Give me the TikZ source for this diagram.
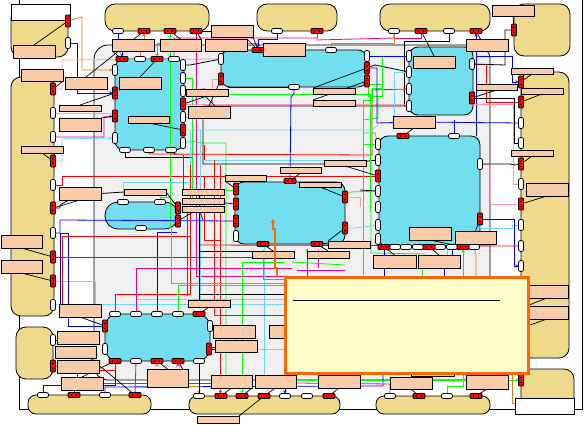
\documentclass[tikz,border=0pt]{standalone}
\usetikzlibrary{arrows.meta}
\definecolor{sand}{HTML}{EFDA8B}
\definecolor{blk}{HTML}{72DFF0}
\definecolor{lab}{HTML}{F9CBA8}
\definecolor{panel}{HTML}{F0F0F0}
\definecolor{cy}{HTML}{66DCF8}
\definecolor{pk}{HTML}{FF99AC}
\definecolor{og}{HTML}{DB7F14}
\definecolor{lm}{HTML}{00FF00}
\definecolor{box}{HTML}{FFFFCC}
\definecolor{edgeo}{HTML}{FF6600}
\pgfdeclarelayer{bg}\pgfdeclarelayer{wires}\pgfdeclarelayer{top}
\pgfsetlayers{bg,wires,main,top}
\tikzset{
 x=1pt,y=-1pt,
 whh/.style={draw=black,line width=.8pt,fill=white,rounded corners=2pt,minimum width=11pt,minimum height=5pt,inner sep=0pt,outer sep=0pt},
 whv/.style={draw=black,line width=.8pt,fill=white,rounded corners=2pt,minimum width=5pt,minimum height=11pt,inner sep=0pt,outer sep=0pt},
 redh/.style={draw=black,line width=.8pt,fill=red,rounded corners=1pt,minimum width=12pt,minimum height=5pt,inner sep=0pt,outer sep=0pt},
 redv/.style={draw=black,line width=.8pt,fill=red,rounded corners=1pt,minimum width=5pt,minimum height=12pt,inner sep=0pt,outer sep=0pt},
 labelbox/.style={draw=black,line width=.8pt,fill=lab,inner sep=0pt,outer sep=0pt,anchor=north west},
 sandbox/.style={draw=black,line width=.8pt,fill=sand,inner sep=0pt,outer sep=0pt,anchor=north west,rounded corners=10pt},
 blockbox/.style={draw=black,line width=.8pt,fill=blk,inner sep=0pt,outer sep=0pt,anchor=north west,rounded corners=9pt},
 panelbox/.style={draw=black,line width=.8pt,fill=panel,inner sep=0pt,outer sep=0pt,anchor=north west,rounded corners=14pt},
 whitebox/.style={draw=black,line width=.8pt,fill=white,inner sep=0pt,outer sep=0pt,anchor=north west},
 notebox/.style={draw=edgeo,fill=box,line width=3pt,inner sep=0pt,outer sep=0pt,anchor=north west},
 wr/.style={draw=red,line width=.8pt},wb/.style={draw=blue,line width=.8pt},wg/.style={draw=lm,line width=.8pt},wm/.style={draw=magenta,line width=.8pt},
 wc/.style={draw=cy,line width=.8pt},wp/.style={draw=pk,line width=.8pt},wo/.style={draw=og,line width=.8pt},wk/.style={draw=black,line width=.8pt},
 ld/.style={draw=black,line width=.7pt},
 tp/.style={-{Stealth[length=3pt,width=3.5pt]}}
}
\newcommand{\bx}[6]{\pgfmathsetmacro{\bw}{#5-#3}\pgfmathsetmacro{\bh}{#6-#4}\node[#1,minimum width=\bw pt,minimum height=\bh pt] (#2) at (#3,#4) {};}
\begin{document}
\begin{tikzpicture}
\useasboundingbox (0,0) rectangle (584,425);
\begin{pgfonlayer}{bg}
\fill[white] (0,0) rectangle (584,425);
\draw[wk] (19,0)--(19,409)--(582,409)--(582,0);
\bx{panelbox}{PAN}{94}{45}{490}{380}
\bx{sandbox}{S1}{11}{8}{68}{57}
\bx{sandbox}{S2}{105}{4}{209}{31}
\bx{sandbox}{S3}{257}{4}{337}{31}
\bx{sandbox}{S4}{380}{4}{490}{31}
\bx{sandbox}{S5}{514}{4}{570}{56}
\bx{sandbox}{S6}{11}{77}{54}{316}
\bx{sandbox}{S7}{16}{327}{53}{379}
\bx{sandbox}{S8}{521}{72}{569}{358}
\bx{sandbox}{S9}{521}{369}{574}{410}
\node[sandbox,rounded corners=8pt,minimum width=123pt,minimum height=19pt] (S10) at (28,395) {};
\node[sandbox,rounded corners=8pt,minimum width=151pt,minimum height=18pt] (S11) at (189,396) {};
\node[sandbox,rounded corners=8pt,minimum width=114pt,minimum height=18pt] (S12) at (376,396) {};
\bx{whitebox}{W1}{11}{4}{70}{20}
\bx{whitebox}{W2}{515}{398}{574}{414}
\bx{blockbox}{BA}{115}{59}{184}{150}
\bx{blockbox}{BB}{221}{50}{367}{87}
\bx{blockbox}{BC}{409}{47}{473}{115}
\bx{blockbox}{BD}{379}{136}{480}{247}
\bx{blockbox}{BE}{235}{182}{345}{244}
\bx{blockbox,rounded corners=13pt}{BF}{105}{202}{178}{229}
\bx{blockbox,rounded corners=13pt}{BG}{105}{314}{210}{361}
\end{pgfonlayer}
% ports
\foreach \x/\y in {118/31,277/31,394/31,449/31,140/59,174/59,125/150,149/150,171/150,331/50,294/87,454/136,395/247,406/247,418/247,440/247,452/247,474/247,141/228,123/202,160/202,115/314,136/314,157/314,178/314,136/361,199/361,43/395,105/395,199/396,285/396,307/396,390/396,447/396}
 \node[whh] (P\x-\y) at (\x,\y) {};
\foreach \x/\y in {68/43,115/70,115/138,183/65,183/78,183/91,183/117,183/143,53/113,53/137,53/185,53/233,53/305,53/340,221/59,367/56,409/56,409/72,409/89,409/106,472/64,378/144,378/160,378/191,378/207,378/225,378/239,480/164,521/123,521/143,521/184,521/225,521/246,521/266,236/236,105/349,210/326}
 \node[whv] (P\x-\y) at (\x,\y) {};
\foreach \x/\y in {144/31,170/31,196/31,122/59,157/59,258/50,290/181,317/31,421/31,476/31,403/136,384/247,429/247,463/247,263/244,317/244,199/314,115/361,157/361,178/361,74/395,135/395,221/396,242/396,264/396,329/396,419/396,476/396}
 {\node[redh] (P\x-\y) at (\x,\y) {};
  \fill[black] ({\x-2.5},\y) circle (.9) ({\x+2.5},\y) circle (.9);}
\foreach \x/\y in {68/21,115/93,115/116,183/104,183/130,53/89,53/161,53/208,53/257,53/281,53/366,221/79,367/68,367/81,472/98,378/176,480/219,514/30,521/82,521/102,521/164,521/204,521/380,236/189,236/204,236/221,345/197,345/228,178/208,178/221,105/326,209/349}
 {\node[redv] (P\x-\y) at (\x,\y) {};
  \fill[black] (\x,{\y-2.5}) circle (.9) (\x,{\y+2.5}) circle (.9);}
% labels
\bx{labelbox}{L1}{13}{45}{55}{58}
\bx{labelbox}{L2}{21}{69}{63}{81}
\bx{labelbox}{L3}{65}{77}{107}{89}
\bx{labelbox}{L4}{59}{105}{101}{111}
\bx{labelbox}{L5}{59}{118}{101}{131}
\bx{labelbox}{L6}{21}{146}{63}{153}
\bx{labelbox}{L7}{59}{187}{101}{200}
\bx{labelbox}{L8}{112}{39}{154}{51}
\bx{labelbox}{L9}{160}{39}{201}{51}
\bx{labelbox}{L10}{205}{39}{247}{51}
\bx{labelbox}{L11}{211}{25}{253}{37}
\bx{labelbox}{L12}{263}{43}{305}{56}
\bx{labelbox}{L13}{119}{77}{161}{89}
\bx{labelbox}{L14}{128}{116}{169}{123}
\bx{labelbox}{L15}{186}{89}{228}{96}
\bx{labelbox}{L16}{188}{106}{230}{118}
\bx{labelbox}{L17}{225}{175}{266}{181}
\bx{labelbox}{L18}{280}{167}{321}{173}
\bx{labelbox}{L19}{124}{189}{166}{195}
\bx{labelbox}{L20}{182}{189}{224}{195}
\bx{labelbox}{L21}{182}{198}{224}{204}
\bx{labelbox}{L22}{182}{206}{224}{212}
\bx{labelbox}{L23}{313}{88}{355}{94}
\bx{labelbox}{L24}{313}{100}{355}{106}
\bx{labelbox}{L25}{492}{5}{534}{16}
\bx{labelbox}{L26}{466}{39}{508}{51}
\bx{labelbox}{L27}{413}{56}{455}{68}
\bx{labelbox}{L28}{511}{68}{553}{74}
\bx{labelbox}{L29}{521}{88}{563}{94}
\bx{labelbox}{L30}{476}{84}{517}{90}
\bx{labelbox}{L31}{393}{116}{435}{128}
\bx{labelbox}{L32}{511}{150}{553}{156}
\bx{labelbox}{L33}{526}{183}{568}{196}
\bx{labelbox}{L34}{324}{160}{366}{166}
\bx{labelbox}{L35}{299}{182}{341}{187}
\bx{labelbox}{L36}{1}{235}{42}{248}
\bx{labelbox}{L37}{1}{260}{42}{273}
\bx{labelbox}{L38}{59}{304}{101}{317}
\bx{labelbox}{L39}{57}{331}{99}{344}
\bx{labelbox}{L40}{55}{346}{96}{358}
\bx{labelbox}{L41}{57}{360}{99}{373}
\bx{labelbox}{L42}{61}{377}{103}{390}
\bx{labelbox}{L43}{147}{369}{188}{387}
\bx{labelbox}{L44}{211}{375}{252}{388}
\bx{labelbox}{L45}{255}{375}{296}{388}
\bx{labelbox}{L46}{213}{325}{255}{338}
\bx{labelbox}{L47}{215}{340}{257}{352}
\bx{labelbox}{L48}{269}{325}{311}{338}
\bx{labelbox}{L49}{188}{300}{230}{307}
\bx{labelbox}{L50}{197}{416}{239}{423}
\bx{labelbox}{L51}{252}{251}{294}{258}
\bx{labelbox}{L52}{328}{241}{370}{248}
\bx{labelbox}{L53}{307}{251}{349}{258}
\bx{labelbox}{L54}{373}{255}{416}{268}
\bx{labelbox}{L55}{418}{255}{460}{268}
\bx{labelbox}{L56}{409}{227}{451}{240}
\bx{labelbox}{L57}{455}{231}{496}{244}
\bx{labelbox}{L58}{526}{285}{568}{298}
\bx{labelbox}{L59}{526}{306}{568}{319}
\bx{labelbox}{L60}{318}{375}{360}{388}
\bx{labelbox}{L61}{390}{377}{432}{389}
\bx{labelbox}{L62}{466}{375}{508}{389}
\bx{labelbox}{L63}{411}{366}{454}{376}
\begin{pgfonlayer}{wires}
% left-side wires into block A
\draw[wo,tp] (P68-21)--(82,17)--(82,70)--(P115-70);
\draw[wb,tp] (P68-43)--(77,43)--(77,93)--(P115-93);
\draw[wp] (P53-89)--(62,89)--(62,60)--(P221-59);
\draw[wp] (P53-113)--(115,113);
\draw[wm,tp] (P53-137)--(104,137)--(104,117)--(P115-116);
\draw[wc,tp] (P53-161)--(62,161)--(62,139)--(P115-138);
\draw[wr] (P53-185)--(62,185)--(62,176)--(P378-176);
\draw[wk] (P53-208)--(60,208)--(60,205)--(L7);
% top stubs
\draw[wb] (P118-31)--(118,39);
\draw[wo,tp] (L8.north -| P144-31)--(P144-31);
\draw[wg,tp] (P170-31)--(170,39);
\draw[wb,tp] (122,51)--(P122-59);
\draw[wo] (140,51)--(P140-59);
\draw[wo,tp] (160,43)--(157,43)--(P157-59);
\draw[wg] (170,51)--(170,228);
\draw[wm] (P174-59)--(174,38)--(317,38)--(317,40)--(394,38)--(P394-31);
\draw[wm] (P196-31)--(196,276)--(400,276);
\draw[wm] (317,33)--(317,38);
\draw[wm] (394,38)--(421,38)--(P421-31);
\draw[wo] (P331-50)--(331,43)--(394,43)--(P394-31);
\draw[wo,tp] (247,43)--(258,43)--(P258-50);
\draw[wb,tp] (P277-31)--(277,39)--(258,39)--(P258-50);
\draw[wb,tp] (476,39)--(P476-31);
\draw[wk] (P449-31)--(449,41)--(404,41)--(404,106);
\draw[wk] (221,59)--(190,65)--(P183-65);
\draw[wk] (P183-78)--(190,78);
% block A right
\draw[wg] (P183-78)--(192,78)--(192,212);
\draw[wg] (P183-117)--(192,117);
\draw[wk] (P183-91)--(205,89);
\draw[wg] (P183-143)--(192,141)--(203,143)--(226,143)--(226,375);
\draw[wk] (P125-150)--(125,157)--(192,157);
\draw[wr,tp] (P149-150)--(149,154)--(372,155)--(372,90)--(P409-89);
\draw[wk] (P171-150)--(175,154);
% long black
\draw[wk] (P409-106)--(203,106)--(203,164)--(340,164)--(P378-160);
\draw[wk] (P367-68)--(375,65)--(P409-72);
\draw[wk] (P294-87)--(228,87);
\draw[wp] (P221-79)--(212,79)--(212,104);
\draw[wp] (186,104)--(409,104);
% green net
\draw[wg] (228,94)--(372,94)--(372,88)--(382,88)--(382,56)--(P409-56);
\draw[wg] (363,275)--(363,100)--(372,100)--(372,88);
\draw[wg] (363,133)--(375,133)--(P378-144);
\draw[wg] (363,144)--(P378-144);
\draw[wg] (363,120)--(378,118)--(378,96);
\draw[wg] (368,84)--(368,96)--(382,96)--(382,84)--(368,84);
\draw[wg] (P345-197)--(350,192)--(P378-191);
\draw[wg] (371,212)--(371,253)--(425,254);
\draw[wg] (370,95)--(370,212);
\draw[wg] (240,190)--(225,190);
\draw[wg,tp] (307,254)--(307,249);
\draw[wg,tp] (463,277)--(P463-247);
\draw[wg] (422,268)--(422,277);
\draw[wg] (P447-396)--(447,386)--(463,386)--(463,373);
\draw[wg] (296,380)--(390,380) (432,380)--(466,380);
\draw[wg,tp] (508,380)--(P521-380);
\draw[wg] (P160-202)--(160,197)--(170,197);
% cyan
\draw[wc] (187,130)--(372,130)--(378,125);
\draw[wc] (203,160)--(325,160);
\draw[wc] (190,131)--(190,182);
\draw[wc] (200,130)--(200,300);
\draw[wc] (P123-202)--(123,182)--(190,182);
\draw[wc] (P409-72)--(394,72)--(394,116);
\draw[wc] (264,245)--(264,375);
\draw[wc] (P53-281)--(95,281)--(95,304);
\draw[wc] (62,304)--(292,304);
\draw[wc] (136,299)--(292,299);
\draw[wc] (60,304)--(P53-305);
\draw[wc] (P345-228)--(355,228)--(370,226)--(P378-225);
\draw[wc] (P480-219)--(480,228)--(512,228)--(512,225)--(P521-225);
\draw[wc] (447,250)--(447,255);
\draw[wc] (101,349)--(P105-349);
% blue
\draw[wb] (P53-233)--(60,233)--(60,220)--(P236-221);
\draw[wb] (60,233)--(68,233)--(68,326)--(P105-326);
\draw[wb] (60,233)--(60,304);
\draw[wb] (P157-314)--(157,232)--(177,232);
\draw[wb] (P294-87)--(294,93)--(291,97)--(P290-181);
\draw[wb] (P367-68)--(377,68)--(377,123)--(L31);
\draw[wb] (P367-56)--(P409-56);
\draw[wb] (L31)--(P521-123);
\draw[wb] (P454-136)--(454,120);
\draw[wb] (476,51)--(476,136);
\draw[wb,tp] (476,56)--(512,56)--(512,82)--(P521-82);
\draw[wb,tp] (P480-219)--(514,219)--(514,266)--(P521-266);
\draw[wb] (225,203)--(P236-204);
\draw[wb] (203,220)--(200,212);
\draw[wb] (P43-395)--(43,385)--(115,385)--(P115-361);
\draw[wb] (P105-395)--(105,387)--(383,386)--(383,373);
\draw[wb] (P384-247)--(384,277);
\draw[wb] (444,268)--(444,277);
\draw[wb] (452,250)--(452,255);
\draw[wb,tp] (285,388)--(P285-396);
% red
\draw[wr] (P472-64)--(486,64)--(486,102)--(P521-102);
\draw[wr] (199,245)--(P521-246);
\draw[wr] (P53-257)--(62,257)--(62,236)--(190,236);
\draw[wr] (P53-257)--(252,257);
\draw[wr] (62,257)--(62,310);
\draw[wr] (P115-314)--(115,294)--(190,294)--(190,165);
\draw[wr] (183,155)--(183,193);
\draw[wr] (187,206)--(187,296);
\draw[wr] (204,145)--(204,160);
\draw[wr] (214,160)--(214,315)--(285,315);
\draw[wr] (220,165)--(220,375);
\draw[wr] (204,176)--(204,240)--(220,240);
\draw[wr] (100,370)--(115,370)--(P115-361);
\draw[wr] (P209-349)--(215,349);
\draw[wr,tp] (220,388)--(P221-396);
% magenta
\draw[wm] (P136-314)--(136,268)--(292,268);
\draw[wm,tp] (178,366)--(P178-361);
\draw[wm] (P136-361)--(P135-395);
\draw[wm] (100,383)--(147,383) (188,383)--(211,383);
\draw[wm] (296,383)--(390,384)--(P390-396);
\draw[wm] (297,270)--(345,270);
\draw[wm] (307,249)--(307,276);
\draw[wm] (318,250)--(318,268);
% pink
\draw[wp] (259,349)--(285,349);
\draw[wp] (P472-98)--(472,104)--(513,104)--(513,184)--(P521-184);
\draw[wp] (P480-164)--(490,164)--(490,204)--(P521-204);
\draw[wp] (350,197)--(360,197)--(360,207);
% green stubs, lower
\draw[wg] (P178-314)--(178,285)--(285,285);
\draw[wg] (171,229)--(171,283)--(285,283);
\draw[wg] (242,262)--(242,375);
\draw[wg] (242,262)--(285,262);
\draw[wg,tp] (242,388)--(P242-396);
\draw[wg] (345,265)--(292,262);
% orange
\draw[wo] (263,250)--(263,279)--(285,279);
\draw[wo,tp] (199,386)--(P199-396);
\draw[wo] (188,386)--(199,386);
\draw[wo,tp] (157,366)--(P157-361);
\draw[wo] (P474-247)--(476,255)--(476,277);
\draw[wo] (512,373)--(512,403)--(515,403);
% black
\draw[wk] (199,196)--(199,302);
\draw[wk] (P199-361)--(P199-396);
\draw[wk] (199,251)--(252,251);
\draw[wk] (199,294)--(292,294);
\draw[wk] (P378-191)--(360,190);
\draw[wk] (P480-164)--(510,164)--(515,165)--(P521-164);
\draw[wk] (P472-98)--(514,98)--(514,143)--(P521-143);
\draw[wk] (P472-64)--(505,65)--(505,30)--(P514-30);
\draw[wk] (L7.east)--(L19.west);
\draw[wk] (P210-326)--(L46);
\draw[wk] (P53-340)--(57,340);
\draw[wk] (P53-366)--(L41);
% leaders
\draw[ld] (L1.north)--(P68-21);
\draw[ld] (L2.south east)--(P53-89);
\draw[ld] (L3.north)--(P144-31);
\draw[ld] (L4.north)--(P115-93);
\draw[ld] (L5.north east)--(P115-116);
\draw[ld] (L6.south)--(P53-161);
\draw[ld] (L7.south)--(P53-208);
\draw[ld] (L8.south west)--(P122-59);
\draw[ld] (L9.north east)--(P196-31);
\draw[ld] (L9.north)--(P170-31);
\draw[ld] (L10.north east)--(P258-50);
\draw[ld] (L11.south east)--(P258-50);
\draw[ld] (L11.west)--(P196-31);
\draw[ld] (L13.north)--(P157-59);
\draw[ld] (L14.south)--(P183-130);
\draw[ld] (L15.south)--(P183-104);
\draw[ld] (L16.north)--(P221-79);
\draw[ld] (L16.45)--(205,96);
\draw[ld] (L17.south west)--(P236-189);
\draw[ld] (L18.south)--(P290-181);
\draw[ld] (L19.east)--(P178-208);
\draw[ld] (L22.north)--(P178-221);
\draw[ld] (L23.north west)--(P367-68);
\draw[ld] (L24.north west)--(P367-81);
\draw[ld] (L25.south)--(P514-30);
\draw[ld] (L26.south)--(P476-31);
\draw[ld] (L27.north)--(P421-31);
\draw[ld] (L28.south)--(P521-82);
\draw[ld] (L29.south)--(P521-102);
\draw[ld] (L30.south)--(P472-98);
\draw[ld] (L31.south)--(P403-136);
\draw[ld] (L32.south)--(P521-164);
\draw[ld] (L33.south)--(P521-204);
\draw[ld] (L34.south)--(P378-176);
\draw[ld] (L35.south)--(P345-197);
\draw[ld] (L36.south)--(P53-257);
\draw[ld] (L37.south)--(P53-281);
\draw[ld] (L38.south)--(P105-326);
\draw[ld] (L40.north)--(P135-395);
\draw[ld] (L41.south)--(P74-395);
\draw[ld] (L42.north)--(P115-361);
\draw[ld] (L43.north)--(P157-361);
\draw[ld] (L43.east)--(P178-361);
\draw[ld] (L44.south)--(P221-396);
\draw[ld] (L44.south east)--(P242-396);
\draw[ld] (L45.south)--(P264-396);
\draw[ld] (L47.north)--(P209-349);
\draw[ld] (L47.south)--(P209-349);
\draw[ld] (L49.south)--(P199-314);
\draw[ld] (L50.north east)--(P264-396);
\draw[ld] (L51.north)--(P263-244);
\draw[ld] (L52.north west)--(P345-228);
\draw[ld] (L52.north)--(P317-244);
\draw[ld] (L53.north)--(P317-244);
\draw[ld] (L54.north)--(P384-247);
\draw[ld] (L55.north)--(P429-247);
\draw[ld] (L56.south)--(P463-247);
\draw[ld] (L57.north)--(P480-219);
\draw[ld] (L58.south)--(529,305);
\draw[ld] (L59.south)--(530,325);
\draw[ld] (L60.south)--(P329-396);
\draw[ld] (L61.south)--(P419-396);
\draw[ld] (L62.south)--(P476-396);
\draw[ld] (L12.west)--(P258-50);
\end{pgfonlayer}
\begin{pgfonlayer}{top}
\bx{notebox}{NOTE}{285}{277}{528}{373}
\draw[wk] (293,300)--(500,300);
\draw[edgeo,line width=2.2pt,-{Stealth[length=4pt,width=5pt]}] (NOTE.north -| 277,277)--(277,268)--(275,268)--(275,229)--(273,229)--(273,219);
\end{pgfonlayer}
\end{tikzpicture}
\end{document}
